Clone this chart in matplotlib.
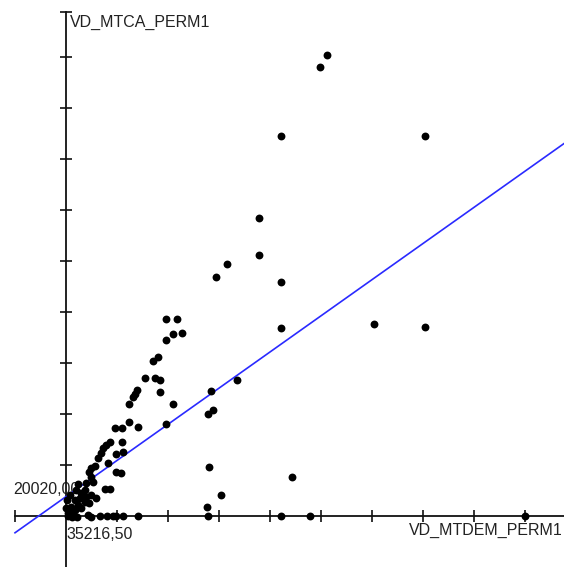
import matplotlib.pyplot as plt
import numpy as np

plt.rcParams['font.family'] = ['Liberation Sans', 'DejaVu Sans']

# values in axis tick steps from the origin (35216,50 ; 20020,00)
x_vals = [5.11, 4.98, 4.22, 7.03, 3.78, 3.78, 3.16, 2.94, 4.22, 4.22,
          2.28, 6.04, 7.03, 3.36, 2.84, 2.89, 2.79, 2.80, 4.43, 3.03,
          2.76, 1.97, 2.17, 1.96, 2.10, 1.81, 1.70, 1.54, 1.75, 1.84,
          1.84, 1.39, 1.35, 1.32, 1.24, 2.10, 1.97, 1.24, 1.42, 0.97,
          1.10, 1.09, 0.86, 0.79, 0.73, 0.68, 0.99, 0.63, 0.82, 0.50,
          0.46, 0.99, 1.08, 0.50, 0.53, 0.40, 0.76, 0.86, 0.37, 0.30,
          0.50, 0.27, 0.59, 0.17, 0.37, 0.46, 0.24, 0.10, 0.07, 0.17,
          0.30, 0.04, 0.14, 0.43, 0.04, 0.12, 0.22, 0.50, 0.67, 0.80,
          0.92, 0.98, 1.11, 1.42, 2.79, 4.22, 4.78, 9.01, 0.01, 0.08,
          0.20, 0.24, 0.57, 1.12, 0.39, 0.00]
y_vals = [9.04, 8.81, 7.45, 7.45, 5.85, 5.12, 4.95, 4.69, 4.59, 3.69,
          3.59, 3.76, 3.70, 2.67, 2.46, 2.08, 2.00, 0.97, 0.77, 0.41,
          0.17, 3.86, 3.86, 3.45, 3.56, 3.12, 3.03, 2.70, 2.70, 2.67,
          2.44, 2.47, 2.39, 2.34, 2.20, 2.20, 1.80, 1.84, 1.75, 1.72,
          1.72, 1.46, 1.46, 1.39, 1.33, 1.23, 1.22, 1.13, 1.03, 0.94,
          0.87, 0.87, 0.84, 0.77, 0.67, 0.64, 0.52, 0.52, 0.51, 0.45,
          0.41, 0.35, 0.35, 0.31, 0.28, 0.25, 0.22, 0.18, 0.12, 0.12,
          0.15, 0.05, 0.02, 0.02, 0.00, -0.02, -0.02, -0.01, 0.00, 0.00,
          0.00, 0.00, 0.00, 0.00, 0.00, 0.00, 0.00, 0.00, 0.31, 0.41,
          0.51, 0.63, 0.98, 1.26, 0.37, 0.16]

# regression line
intercept = 0.38
slope = 0.709
line_x = [-1.0, 9.77]

x_origin_label = "35216,50"
y_origin_label = "20020,00"
x_name = "VD_MTDEM_PERM1"
y_name = "VD_MTCA_PERM1"

fig = plt.figure(figsize=(5.64, 5.67), dpi=100)
ax = fig.add_axes([0, 0, 1, 1])
ax.set_xlim(-1.294, 9.765)
ax.set_ylim(-1.0, 10.118)

for s in ['top', 'right']:
    ax.spines[s].set_visible(False)
ax.spines['left'].set_position(('data', 0))
ax.spines['bottom'].set_position(('data', 0))
ax.spines['left'].set_bounds(-1.0, 9.88)
ax.spines['bottom'].set_bounds(-1.0, 9.765)
for s in ['left', 'bottom']:
    ax.spines[s].set_linewidth(1.3)
    ax.spines[s].set_color('#111111')
    ax.spines[s].set_zorder(1)

ax.set_xticks([-1.0] + list(range(1, 10)))
ax.set_yticks(list(range(1, 10)) + [9.88])
ax.tick_params(direction='inout', length=9, width=1.2, color='#111111',
               labelbottom=False, labelleft=False)

lx = np.array(line_x)
ax.plot(lx, intercept + slope * lx, color='#2a2aff', lw=1.2, zorder=2)
ax.scatter(x_vals, y_vals, s=32, color='black', marker='o', zorder=3,
           linewidths=0)

ax.text(0.08, 9.83, y_name, fontsize=11.5, va='top', ha='left', color='#222222')
ax.text(9.74, -0.14, x_name, fontsize=11.5, va='top', ha='right', color='#222222')
ax.text(0.0, -0.22, x_origin_label, fontsize=11.5, va='top', ha='left', color='#222222')
ax.text(-1.04, 0.38, y_origin_label, fontsize=11.5, va='bottom', ha='left',
        color='#222222', zorder=1)

fig.savefig('out.png', dpi=100)
